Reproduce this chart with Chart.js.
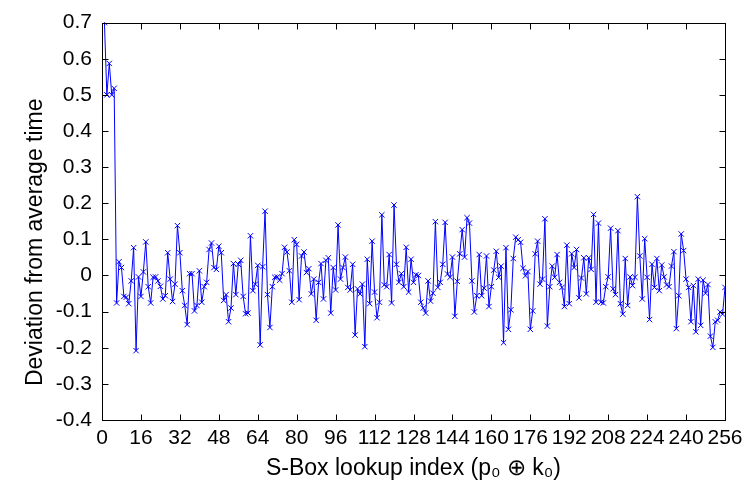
<!DOCTYPE html>
<html><head><meta charset="utf-8">
<script src="https://cdn.jsdelivr.net/npm/chart.js@4/dist/chart.umd.min.js"></script>
<style>html,body{margin:0;padding:0;background:#fff;} canvas{display:block;}</style>
</head><body>
<canvas id="c" width="756" height="486"></canvas>
<script>
// S-Box lookup index (1..256)
const lookupIndex = Array.from({length: 256}, (_, i) => i + 1);
// Deviation from average time
const deviation = [
  0.70, 0.50, 0.587, 0.50, 0.518, -0.076, 0.038, 0.022, -0.058, -0.06,
  -0.078, -0.015, 0.077, -0.208, -0.004, -0.058, 0.01, 0.093, -0.031, -0.076,
  -0.005, -0.004, -0.015, -0.03, -0.065, -0.056, 0.063, -0.01, -0.072, -0.024,
  0.138, 0.063, -0.042, -0.083, -0.136, 0.005, 0.005, -0.098, -0.083, 0.013,
  -0.074, -0.031, -0.019, 0.072, 0.09, 0.022, 0.017, 0.081, 0.063, -0.069,
  -0.053, -0.128, -0.09, 0.033, -0.053, 0.031, 0.042, -0.058, -0.106, -0.104,
  0.11, -0.042, -0.024, 0.028, -0.192, 0.024, 0.178, -0.053, -0.144, -0.031,
  -0.005, -0.004, -0.013, 0.005, 0.078, 0.065, 0.013, -0.074, 0.099, 0.086,
  -0.067, 0.054, 0.065, 0.008, 0.019, -0.051, -0.01, -0.124, -0.019, 0.033,
  -0.065, 0.042, 0.049, -0.104, 0.022, -0.04, 0.14, -0.01, 0.022, 0.051,
  -0.033, -0.04, 0.031, -0.165, -0.037, -0.051, -0.024, -0.197, 0.045, -0.078,
  0.095, -0.046, -0.117, -0.074, 0.168, -0.026, -0.031, 0.058, -0.076, 0.195,
  0.031, -0.019, 0.005, -0.031, 0.078, -0.046, 0.045, -0.019, 0.002, 0.0,
  -0.074, -0.09, -0.104, -0.015, -0.071, -0.049, 0.149, -0.033, -0.019, 0.031,
  0.147, 0.004, -0.005, 0.051, -0.113, -0.016, 0.06, 0.127, 0.051, 0.16,
  0.145, -0.015, -0.101, -0.056, 0.058, -0.056, -0.035, 0.054, -0.086, -0.031,
  0.015, 0.067, -0.005, 0.026, -0.186, 0.077, -0.149, -0.095, 0.047, 0.106,
  0.099, 0.092, 0.02, -0.001, 0.011, -0.149, -0.098, 0.06, 0.095, -0.024,
  -0.01, 0.157, -0.14, -0.031, 0.026, -0.005, 0.058, -0.019, -0.033, -0.086,
  0.084, -0.078, 0.06, 0.022, 0.072, -0.062, -0.007, 0.049, -0.051, 0.049,
  0.017, 0.169, -0.074, 0.145, -0.074, -0.076, -0.031, -0.004, 0.131, -0.037,
  -0.053, 0.124, -0.078, -0.107, 0.047, -0.083, -0.004, -0.028, -0.005, 0.218,
  0.054, -0.065, 0.102, -0.005, -0.122, 0.031, -0.033, 0.047, -0.042, 0.029,
  -0.004, -0.026, -0.031, 0.026, 0.066, -0.147, -0.056, 0.115, 0.069, -0.01,
  -0.033, -0.128, -0.028, -0.156, -0.01, -0.138, -0.013, -0.049, -0.025, -0.168,
  -0.199, -0.128, -0.124, -0.101, -0.107, -0.033
];
const xTickValues = [0, 16, 32, 48, 64, 80, 96, 112, 128, 144, 160, 176, 192, 208, 224, 240, 256];
const yTickValues = [-0.4, -0.3, -0.2, -0.1, 0, 0.1, 0.2, 0.3, 0.4, 0.5, 0.6, 0.7];
const yTickLabels = ['-0.4', '-0.3', '-0.2', '-0.1', '0', '0.1', '0.2', '0.3', '0.4', '0.5', '0.6', '0.7'];
const xTitle = 'S-Box lookup index (p\u2080 \u2295 k\u2080)';
const yTitle = 'Deviation from average time';

const FONT = "'Liberation Sans', Arial, sans-serif";

const framePlugin = {
  id: 'frame',
  afterDatasetsDraw(chart) {
    const {ctx, chartArea: a, scales: {x, y}} = chart;
    const L = Math.round(a.left) + 0.5, R = Math.round(a.right) + 0.5;
    const T = Math.round(a.top) + 0.5, B = Math.round(a.bottom) + 0.5;
    const len = 6;
    ctx.save();
    ctx.strokeStyle = '#000';
    ctx.lineWidth = 1;
    ctx.strokeRect(L, T, R - L, B - T);
    ctx.beginPath();
    x.ticks.forEach(t => {
      const px = Math.round(x.getPixelForValue(t.value)) + 0.5;
      ctx.moveTo(px, B); ctx.lineTo(px, B - len);
      ctx.moveTo(px, T); ctx.lineTo(px, T + len);
    });
    y.ticks.forEach(t => {
      const py = Math.round(y.getPixelForValue(t.value)) + 0.5;
      ctx.moveTo(L, py); ctx.lineTo(L + len, py);
      ctx.moveTo(R, py); ctx.lineTo(R - len, py);
    });
    ctx.stroke();
    // y axis title (MATLAB places it slightly below the axis centre)
    ctx.fillStyle = '#000';
    ctx.font = '23px ' + FONT;
    ctx.textAlign = 'center';
    ctx.textBaseline = 'middle';
    ctx.translate(36, (a.top + a.bottom) / 2 + 21);
    ctx.rotate(-Math.PI / 2);
    ctx.fillText(yTitle, 0, 0);
    ctx.restore();
  }
};

const bgPlugin = {
  id: 'bg',
  beforeDraw(chart) {
    const ctx = chart.ctx;
    ctx.save();
    ctx.fillStyle = '#fff';
    ctx.fillRect(0, 0, chart.width, chart.height);
    ctx.restore();
  }
};

new Chart(document.getElementById('c'), {
  type: 'line',
  data: {
    datasets: [{
      data: lookupIndex.map((v, i) => ({x: v, y: deviation[i]})),
      borderColor: '#0000ff',
      backgroundColor: '#0000ff',
      borderWidth: 1,
      pointStyle: 'crossRot',
      pointRadius: 3.8,
      pointBorderColor: '#0000ff',
      pointBorderWidth: 1,
      tension: 0,
      fill: false
    }]
  },
  options: {
    responsive: false,
    animation: false,
    devicePixelRatio: 1,
    layout: {padding: {top: 17, right: 31, left: 0, bottom: 0}},
    plugins: {legend: {display: false}, tooltip: {enabled: false}},
    scales: {
      x: {
        type: 'linear',
        min: 0, max: 256,
        afterBuildTicks: s => { s.ticks = xTickValues.map(v => ({value: v})); },
        afterFit: s => { s.height = 66; },
        grid: {display: false, drawTicks: false},
        border: {display: false},
        ticks: {
          color: '#000', padding: 6, maxRotation: 0, autoSkip: false,
          font: {family: FONT, size: 21},
          callback: v => String(v)
        },
        title: {
          display: true, text: xTitle, color: '#000',
          font: {family: FONT, size: 23}, padding: {top: 0, bottom: 4}
        }
      },
      y: {
        type: 'linear',
        min: -0.4, max: 0.7,
        afterBuildTicks: s => { s.ticks = yTickValues.map(v => ({value: v})); },
        afterFit: s => { s.width = 102; },
        grid: {display: false, drawTicks: false},
        border: {display: false},
        ticks: {
          color: '#000', padding: 10, autoSkip: false,
          font: {family: FONT, size: 21},
          callback: (v, i) => yTickLabels[i]
        },
        title: {display: false, text: yTitle}
      }
    }
  },
  plugins: [bgPlugin, framePlugin]
});
</script>
</body></html>
